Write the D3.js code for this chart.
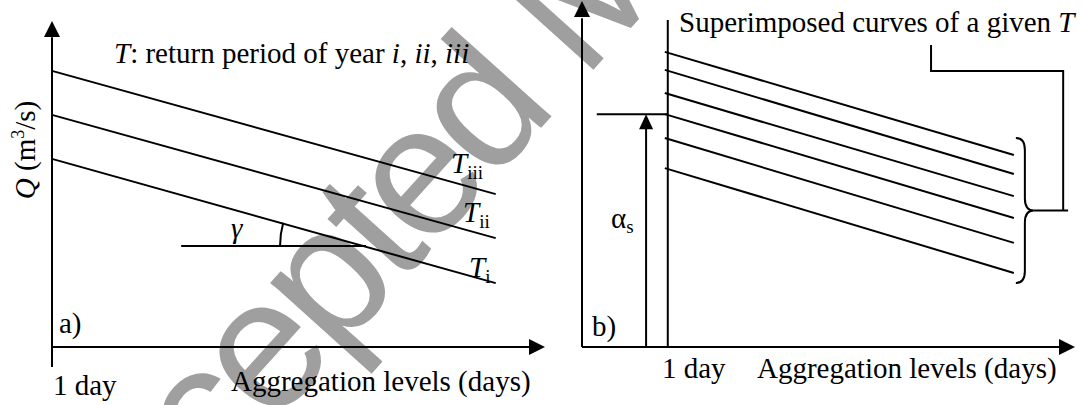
<!DOCTYPE html>
<html>
<head>
<meta charset="utf-8">
<script src="https://cdn.jsdelivr.net/npm/d3@7"></script>
<style>
  body { margin: 0; background: #fff; }
  svg text { font-family: "Liberation Serif", "Times New Roman", serif; fill: #000; }
</style>
</head>
<body>
<div id="chart"></div>
<script>
// ---- panel a) : three return periods, same slope ----
const curvesA   = ['iii', 'ii', 'i'];
const startA    = [84.7, 71.2, 57.7];   // Q at 1 day
const endA      = [46.9, 33.4, 19.6];   // Q at right end
const endXA     = 90;
const gammaLine = [26.2, 63.7];         // horizontal reference for the angle
const gammaQ    = 31.0;

// ---- panel b) : superimposed curves of one T ----
const startB    = [85.3, 80.1, 73.4, 67.3, 60.4, 51.7];
const endB      = [55.5, 50.0, 43.6, 37.3, 30.1, 21.4];
const startXB   = 16.8;
const endXB     = 87.6;
const oneDayB   = 17.4;
const alphaQ    = 67.3;
const alphaX    = 13.0;
const alphaFrom = 3.0;
const braceQ    = [60.4, 18.5];
const leaderX   = [70.8, 97.6, 98.6];   // upper stub, riser, right end
const leaderQ   = [87.3, 79.8];

const W = 1083, H = 405;
const svg = d3.select('#chart').append('svg')
  .attr('width', W).attr('height', H);

// watermark (drawn first, behind everything)
svg.append('text')
  .attr('transform', 'translate(81,639) rotate(-48)')
  .style('font-family', '"Liberation Sans", Arial, sans-serif')
  .style('font-size', '185px')
  .style('letter-spacing', '-8px')
  .style('fill', '#9f9f9f')
  .text('Accepted Manuscript');

const xA = d3.scaleLinear().domain([0, 100]).range([52, 545]);
const yA = d3.scaleLinear().domain([0, 100]).range([347, 21]);
const xB = d3.scaleLinear().domain([0, 100]).range([582, 1075]);
const yB = d3.scaleLinear().domain([0, 100]).range([347, 1]);

const line = d3.line();
const ink = (sel, w) => sel.attr('fill', 'none').attr('stroke', '#000').attr('stroke-width', w || 2);

// arrowheads
function arrow(tip, dir, len, half) {
  let pts;
  if (dir === 'up') pts = [tip, [tip[0] - half, tip[1] + len], [tip[0] + half, tip[1] + len]];
  else pts = [tip, [tip[0] - len, tip[1] - half], [tip[0] - len, tip[1] + half]];
  svg.append('path').attr('d', line(pts) + 'Z').attr('fill', '#000');
}

// ---------- panel a ----------
ink(svg.append('path').attr('d', line([[xA(0), yA(-6.1)], [xA(0), yA(95)]])));
arrow([xA(0), yA(100)], 'up', 16, 8);
ink(svg.append('path').attr('d', line([[xA(0), yA(0)], [xA(97), yA(0)]])));
arrow([xA(100), yA(0)], 'right', 16, 8);

svg.selectAll('.curveA').data(curvesA).enter().append('path')
  .attr('class', 'curveA')
  .attr('d', (d, i) => line([[xA(0), yA(startA[i])], [xA(endXA), yA(endA[i])]]))
  .call(ink);

// angle gamma
ink(svg.append('path').attr('d', line([[xA(gammaLine[0]), yA(gammaQ)], [xA(gammaLine[1]), yA(gammaQ)]])));
const gx = xA(gammaLine[1]), gy = yA(gammaQ);
const slope = Math.atan2(yA(endA[2]) - yA(startA[2]), xA(endXA) - xA(0));
const r = 86;
ink(svg.append('path').attr('d',
  `M${gx - r},${gy} A${r},${r} 0 0 1 ${gx - r * Math.cos(slope)},${gy - r * Math.sin(slope)}`));

svg.append('text').attr('x', 231).attr('y', 238)
  .style('font-size', '29px').style('font-style', 'italic').text('γ');

// curve labels
const labA = svg.selectAll('.labA').data(curvesA).enter().append('text')
  .attr('class', 'labA')
  .attr('x', (d, i) => [451, 463, 469][i])
  .attr('y', (d, i) => [173, 222, 277][i])
  .style('font-size', '29px');
labA.append('tspan').style('font-style', 'italic').text('T');
labA.append('tspan').attr('dy', 6).style('font-size', '19px').text(d => d);

// title
const title = svg.append('text').attr('x', 114).attr('y', 63).style('font-size', '29px');
title.append('tspan').style('font-style', 'italic').text('T');
title.append('tspan').text(': return period of year ');
title.append('tspan').style('font-style', 'italic').text('i');
title.append('tspan').text(', ');
title.append('tspan').style('font-style', 'italic').text('ii');
title.append('tspan').text(', ');
title.append('tspan').style('font-style', 'italic').text('iii');

// y label
const yl = svg.append('text')
  .attr('transform', 'translate(35,150) rotate(-90)')
  .attr('text-anchor', 'middle')
  .style('font-size', '29px');
yl.append('tspan').style('font-style', 'italic').text('Q');
yl.append('tspan').text(' (m');
yl.append('tspan').attr('dy', -11).style('font-size', '18px').text('3');
yl.append('tspan').attr('dy', 11).text('/s)');

svg.append('text').attr('x', 59).attr('y', 333).style('font-size', '29px').text('a)');
svg.append('text').attr('x', 53).attr('y', 395).style('font-size', '29px').text('1 day');
svg.append('text').attr('x', 231).attr('y', 391).style('font-size', '29px').text('Aggregation levels (days)');

// ---------- panel b ----------
ink(svg.append('path').attr('d', line([[xB(0), yB(0)], [xB(0), yB(95)]])));
arrow([xB(0), yB(100)], 'up', 16, 8);
ink(svg.append('path').attr('d', line([[xB(0), yB(0)], [xB(97), yB(0)]])));
arrow([xB(100), yB(0)], 'right', 16, 8);

// 1 day line
ink(svg.append('path').attr('d', line([[xB(oneDayB), yB(0)], [xB(oneDayB), yB(94.5)]])));

svg.selectAll('.curveB').data(startB).enter().append('path')
  .attr('class', 'curveB')
  .attr('d', (d, i) => line([[xB(startXB), yB(d)], [xB(endXB), yB(endB[i])]]))
  .call(ink);

// alpha_s
ink(svg.append('path').attr('d', line([[xB(alphaFrom), yB(alphaQ)], [xB(oneDayB), yB(alphaQ)]])));
ink(svg.append('path').attr('d', line([[xB(alphaX), yB(0)], [xB(alphaX), yB(alphaQ) + 10]])));
arrow([xB(alphaX), yB(alphaQ)], 'up', 15, 7);
const al = svg.append('text').attr('x', 611).attr('y', 228).style('font-size', '29px');
al.append('tspan').text('α');
al.append('tspan').attr('dy', 5).style('font-size', '19px').text('s');

// brace
const bx = xB(endXB) + 2, by0 = yB(braceQ[0]), by1 = yB(braceQ[1]);
const bm = (by0 + by1) / 2, bw = 18, br = 12;
ink(svg.append('path').attr('d',
  `M${bx},${by0} Q${bx + bw / 2},${by0} ${bx + bw / 2},${by0 + br} L${bx + bw / 2},${bm - br} ` +
  `Q${bx + bw / 2},${bm} ${bx + bw},${bm} Q${bx + bw / 2},${bm} ${bx + bw / 2},${bm + br} ` +
  `L${bx + bw / 2},${by1 - br} Q${bx + bw / 2},${by1} ${bx},${by1}`));

// leader from the brace up to the label
ink(svg.append('path').attr('d', line([[bx + bw, bm], [xB(leaderX[2]), bm]])));
ink(svg.append('path').attr('d', line([
  [xB(leaderX[0]), yB(leaderQ[0])],
  [xB(leaderX[0]), yB(leaderQ[1])],
  [xB(leaderX[1]), yB(leaderQ[1])],
  [xB(leaderX[1]), bm]
])));

const sup = svg.append('text').attr('x', 679).attr('y', 32).style('font-size', '29px');
sup.append('tspan').text('Superimposed curves of a given ');
sup.append('tspan').style('font-style', 'italic').text('T');

svg.append('text').attr('x', 592).attr('y', 336).style('font-size', '29px').text('b)');
svg.append('text').attr('x', 662).attr('y', 378).style('font-size', '29px').text('1 day');
svg.append('text').attr('x', 757).attr('y', 378).style('font-size', '29px').text('Aggregation levels (days)');
</script>
</body>
</html>
